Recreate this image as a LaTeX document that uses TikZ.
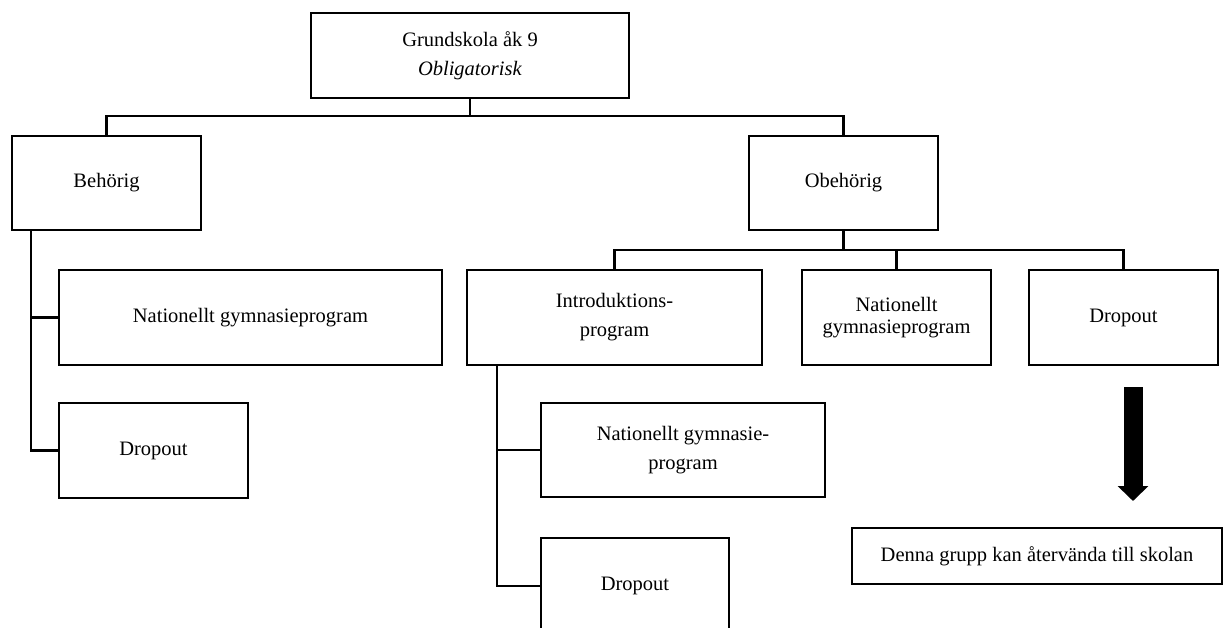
\documentclass[tikz,border=0pt]{standalone}
\usepackage{fontspec}
\setmainfont{Liberation Serif}
\usetikzlibrary{arrows.meta}

\begin{document}
\begin{tikzpicture}[x=1pt,y=-1pt,box/.style={rectangle,draw,line width=2.6pt,inner sep=0pt,align=center,font=\fontsize{20.5}{29}\selectfont},
	link/.style={draw,line width=2.6pt},>={Triangle[width=30pt,length=15pt]}]
	\path[use as bounding box,clip] (0,0) rectangle (1223,628);
	\node[box,minimum width=318pt,minimum height=85pt] (top) at (470,55.5) {Grundskola åk 9\\\textit{Obligatorisk}};
	\node[box,minimum width=189pt,minimum height=94pt] (beh) at (106.5,183) {Behörig};
	\node[box,minimum width=189pt,minimum height=94pt] (obe) at (843.5,183) {Obehörig};
	\node[box,minimum width=383pt,minimum height=95pt] (nat1) at (250.5,317.5) {Nationellt gymnasieprogram};
	\node[box,minimum width=189pt,minimum height=95pt] (drop1) at (153.5,450.5) {Dropout};
	\node[box,minimum width=295pt,minimum height=95pt] (intro) at (614.5,317.5) {Introduktions-\\program};
	\node[box,minimum width=189pt,minimum height=95pt,font=\fontsize{20.5}{22}\selectfont] (nat3) at (896.5,317.5) {Nationellt\\gymnasieprogram};
	\node[box,minimum width=189pt,minimum height=95pt] (drop3) at (1123.5,317.5) {Dropout};
	\node[box,minimum width=284pt,minimum height=94pt] (nat2) at (683,450) {Nationellt gymnasie-\\program};
	\node[box,minimum width=188pt,minimum height=96pt] (drop2) at (635,586) {Dropout};
	\node[box,minimum width=370pt,minimum height=56pt] (back) at (1037,556) {Denna grupp kan återvända till skolan};

	\coordinate (bus1) at (470,116);
	\coordinate (bus2) at (843.5,250);
	\coordinate (s1) at (31,230);
	\coordinate (s2) at (497,365);
	\coordinate (a1) at (1133,387);
	\coordinate (a2) at (1133,501);

	\draw[link] (top.south) -- (bus1);
	\draw[link] (beh.north) |- (bus1) -| (obe.north);
	\draw[link] (obe.south) -- (bus2);
	\draw[link] (intro.north) |- (bus2) -| (drop3.north);
	\draw[link] (bus2 -| nat3.north) -- (nat3.north);
	\draw[link] (s1) |- (nat1.west);
	\draw[link] (s1) |- (drop1.west);
	\draw[link] (s2) |- (nat2.west);
	\draw[link] (s2) |- (drop2.west);
	\draw[->,line width=19pt] (a1) -- (a2);
\end{tikzpicture}
\end{document}
